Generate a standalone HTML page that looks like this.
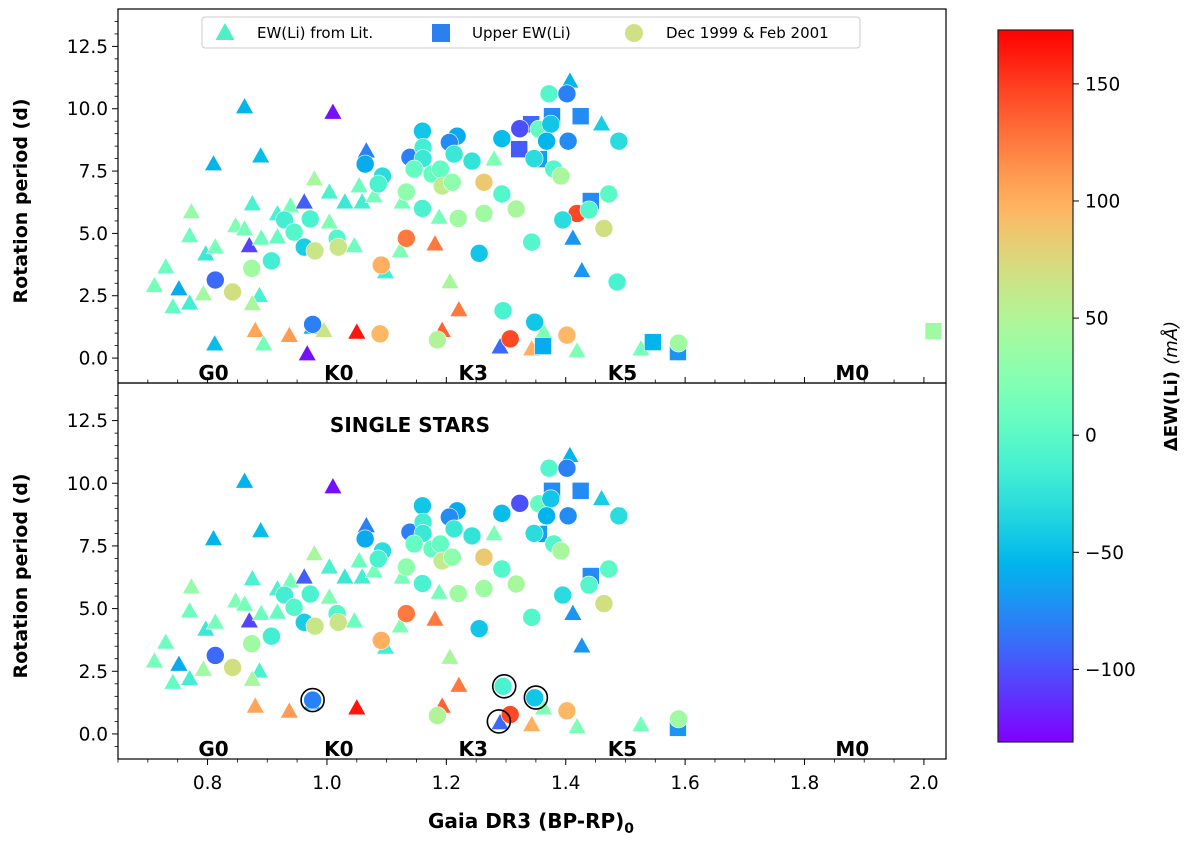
<!DOCTYPE html>
<html><head><meta charset="utf-8"><style>
body{margin:0;background:#fff}
svg{display:block;font-family:"DejaVu Sans","Liberation Sans",sans-serif}
</style></head><body>
<svg id="fig" width="1200" height="843" viewBox="0 0 1200 843" xmlns="http://www.w3.org/2000/svg">
<defs><linearGradient id="cbg" x1="0" y1="1" x2="0" y2="0"></linearGradient></defs>
<g id="topMarks"></g>
<g id="botMarks"></g>
<g id="axes"></g>
</svg>
<script>
// Triangles: EW(Li) from literature
const triX=[0.862,1.01,0.81,0.889,0.773,0.77,0.73,0.711,0.752,0.742,0.77,0.797,0.813,0.847,0.862,0.87,0.875,0.89,0.887,0.875,0.793,0.917,0.917,0.939,0.962,0.979,1.004,1.03,1.054,1.059,1.079,1.046,1.004,1.123,1.126,1.066,1.28,1.188,1.181,1.206,1.221,1.193,1.29,0.88,0.937,0.975,0.995,1.05,0.967,0.812,0.894,1.098,1.407,1.46,1.412,1.427,1.419,1.526,1.363,1.343];
const triY=[10.07,9.85,7.78,8.1,5.86,4.9,3.65,2.9,2.77,2.05,2.2,4.17,4.45,5.3,5.17,4.5,6.18,4.8,2.5,2.17,2.57,4.85,5.78,6.1,6.25,7.18,6.65,6.25,6.9,6.25,6.5,4.5,5.45,4.3,6.25,8.3,7.98,5.64,4.57,3.05,1.93,1.1,0.44,1.1,0.9,1.23,1.1,1.03,0.16,0.56,0.56,3.45,11.1,9.38,4.8,3.5,0.28,0.36,1.03,0.36];
const triC=[-55,-125,-55,-50,35,10,10,15,-60,5,-15,-20,15,20,15,-105,-10,10,-10,45,40,5,-10,15,-95,45,-10,-20,10,-15,15,10,20,20,15,-80,20,15,125,45,125,135,-90,105,110,-55,65,165,-125,-50,15,-15,-55,-40,-70,-70,20,15,20,100];
const triS=[1,1,1,1,1,1,1,1,1,1,1,1,1,1,1,1,1,1,1,1,1,1,1,1,1,1,1,1,1,1,1,1,1,1,1,1,1,1,1,1,1,1,1,1,1,1,0,1,0,0,0,1,1,1,1,1,1,1,1,1];
// Squares: upper EW(Li)
const sqX=[1.377,1.425,1.342,1.322,1.355,1.442,1.362,1.546,1.588,2.016];
const sqY=[9.7,9.7,9.38,8.38,7.98,6.3,0.48,0.64,0.24,1.08];
const sqC=[-75,-75,-90,-95,-65,-75,-60,-55,-70,40];
const sqS=[1,1,0,0,1,1,0,0,1,0];
// Circles: Dec 1999 & Feb 2001
const ciX=[0.813,0.842,0.874,0.907,0.929,0.945,0.972,0.962,0.98,1.017,1.019,1.064,1.093,1.086,1.091,1.133,1.133,1.16,1.139,1.161,1.161,1.146,1.176,1.19,1.193,1.21,1.16,1.218,1.205,1.213,1.243,1.293,1.323,1.263,1.293,1.263,1.22,1.317,1.255,1.295,1.185,1.089,1.307,1.372,1.402,1.355,1.375,1.368,1.404,1.489,1.347,1.38,1.392,1.472,1.419,1.439,1.395,1.464,1.343,1.486,1.348,1.402,1.589,0.976];
const ciY=[3.13,2.65,3.6,3.9,5.54,5.05,5.58,4.45,4.3,4.8,4.45,7.78,7.3,6.98,3.73,6.66,4.8,9.1,8.05,8.45,8.0,7.58,7.38,7.58,6.9,7.05,6.0,8.9,8.65,8.18,7.9,8.8,9.2,7.05,6.58,5.8,5.6,5.98,4.2,1.9,0.73,0.97,0.77,10.6,10.6,9.18,9.38,8.7,8.7,8.7,8.0,7.58,7.3,6.58,5.8,5.94,5.54,5.2,4.65,3.05,1.44,0.92,0.6,1.35];
const ciC=[-90,70,40,-15,-15,-5,-10,-40,65,-5,65,-60,-30,-10,100,30,125,-45,-80,-15,-20,5,5,5,60,30,-10,-60,-75,-20,-25,-50,-100,85,-5,40,40,45,-45,-10,50,95,145,-5,-80,5,-45,-55,-75,-30,-30,-5,45,0,145,-5,-30,70,-5,-10,-45,95,40,-80];
const ciS=[1,1,1,1,1,1,1,1,1,1,1,1,1,1,1,1,1,1,1,1,1,1,1,1,1,1,1,1,1,1,1,1,1,1,1,1,1,1,1,1,1,0,1,1,1,1,1,1,1,1,1,1,1,1,0,1,1,1,1,0,1,1,1,1];
// Highlighted single stars (black rings)
const ringX=[0.976,1.297,1.35,1.288];
const ringY=[1.35,1.9,1.45,0.5];
const xTicks=[0.8,1.0,1.2,1.4,1.6,1.8,2.0];
const yTicks=[0,2.5,5,7.5,10,12.5];
const cbTicks=[150,100,50,0,-50,-100];
const spTypes=["G0","K0","K3","K5","M0"];
const spPos=[0.81,1.02,1.245,1.495,1.88];

const NS="http://www.w3.org/2000/svg";
const XMIN=0.65,XMAX=2.037,YMIN=-1,YMAX=14,CMIN=-131,CMAX=173;
const L=118,R=946;
const panels=[{top:9,bot:383},{top:383,bot:759}];
function xs(v){return L+(v-XMIN)/(XMAX-XMIN)*(R-L);}
function ys(v,p){return p.bot-(v-YMIN)/(YMAX-YMIN)*(p.bot-p.top);}
function rainbow(v){let t=(v-CMIN)/(CMAX-CMIN);t=Math.max(0,Math.min(1,t));
 const r=Math.min(1,Math.abs(2*t-0.5)),g=Math.sin(Math.PI*t),b=Math.cos(Math.PI*t/2);
 return `rgb(${Math.round(r*255)},${Math.round(g*255)},${Math.round(b*255)})`;}
function mk(tag,attrs,parent){const e=document.createElementNS(NS,tag);for(const k in attrs)e.setAttribute(k,attrs[k]);parent.appendChild(e);return e;}
const svg=document.getElementById('fig');
const ax=document.getElementById('axes');
const groups=[document.getElementById('topMarks'),document.getElementById('botMarks')];

panels.forEach((p,pi)=>{
 const g=groups[pi];
 const single=pi===1;
 const cp=mk('clipPath',{id:'cp'+pi},svg);
 mk('rect',{x:L,y:p.top,width:R-L,height:p.bot-p.top},cp);
 g.setAttribute('clip-path','url(#cp'+pi+')');
 triX.forEach((x,i)=>{ if(single&&!triS[i])return;
  const cx=xs(x),cy=ys(triY[i],p),h=9.5;
  const e=mk('polygon',{points:`${cx},${cy-h} ${cx-h*0.95},${cy+h*0.7} ${cx+h*0.95},${cy+h*0.7}`,fill:rainbow(triC[i]),stroke:'#fff','stroke-width':0.6},g);
  
  });
 sqX.forEach((x,i)=>{ if(single&&!sqS[i])return;
  const cx=xs(x),cy=ys(sqY[i],p);
  const e=mk('rect',{x:cx-8.5,y:cy-8.5,width:17,height:17,fill:rainbow(sqC[i]),stroke:'#fff','stroke-width':0.6},g);
  
  });
 ciX.forEach((x,i)=>{ if(single&&!ciS[i])return;
  const e=mk('circle',{cx:xs(x),cy:ys(ciY[i],p),r:9,fill:rainbow(ciC[i]),stroke:'#fff','stroke-width':0.6},g);
  
  });
 if(single){ringX.forEach((x,i)=>{
  const e=mk('circle',{cx:xs(x),cy:ys(ringY[i],p),r:11.5,fill:'none',stroke:'#000','stroke-width':1.6},g);
  
  });}
 const fr=mk('rect',{x:L,y:p.top,width:R-L,height:p.bot-p.top,fill:'none',stroke:'#000','stroke-width':1.2},ax);
 
 
 yTicks.forEach(v=>{const y=ys(v,p);
  mk('line',{x1:L-6,x2:L,y1:y,y2:y,stroke:'#000','stroke-width':1},ax);
  const t=mk('text',{x:L-10,y:y+6.5,'text-anchor':'end','font-size':18.5},ax);t.textContent=v.toFixed(1);
  
  });
 for(let v=-0.5;v<=13.9;v+=0.5){if(Math.abs(v/2.5-Math.round(v/2.5))<1e-6)continue;const y=ys(v,p);mk('line',{x1:L-3.5,x2:L,y1:y,y2:y,stroke:'#000','stroke-width':0.8},ax);}
 const dir=pi===0?-1:1;
 for(let v=0.65;v<=2.04;v+=0.05){const x=xs(v);const maj=Math.abs(v*5-Math.round(v*5))<1e-6;
  mk('line',{x1:x,x2:x,y1:p.bot,y2:p.bot+dir*(maj?6:3.5),stroke:'#000','stroke-width':maj?1:0.8},ax);}
 spTypes.forEach((s,i)=>{const t=mk('text',{x:xs(spPos[i]),y:p.bot-(pi===0?3:3),'text-anchor':'middle','font-size':20,'font-weight':'bold'},ax);t.textContent=s;
  
  });
 const yl=mk('text',{x:0,y:0,transform:`translate(27,${(p.top+p.bot)/2+5}) rotate(-90)`,'text-anchor':'middle','font-size':19,'font-weight':'bold'},ax);
 yl.textContent='Rotation period (d)';
 
 
});
xTicks.forEach(v=>{const t=mk('text',{x:xs(v),y:789,'text-anchor':'middle','font-size':18.5},ax);t.textContent=v.toFixed(1);
 
 });
const grad=document.getElementById('cbg');
for(let i=0;i<=40;i++){const v=CMIN+(CMAX-CMIN)*i/40;mk('stop',{offset:(i/40),'stop-color':rainbow(v)},grad);}
const CB={x:998,w:75,top:30,bot:742};
const cb=mk('rect',{x:CB.x,y:CB.top,width:CB.w,height:CB.bot-CB.top,fill:'url(#cbg)',stroke:'#222','stroke-width':1.2},ax);


function cy(v){return CB.bot-(v-CMIN)/(CMAX-CMIN)*(CB.bot-CB.top);}
cbTicks.forEach(v=>{const y=cy(v);mk('line',{x1:CB.x+CB.w,x2:CB.x+CB.w+6,y1:y,y2:y,stroke:'#000','stroke-width':1},ax);
 const t=mk('text',{x:CB.x+CB.w+12,y:y+6.5,'font-size':18.5},ax);t.textContent=v<0?'\u2212'+(-v):String(v);
 
 });
</script>
<svg style="position:absolute;left:0;top:0" width="1200" height="843" xmlns="http://www.w3.org/2000/svg">
<g>
<rect x="202" y="17" width="658" height="31" rx="3" fill="#fff" fill-opacity="0.85" stroke="#ccc" stroke-width="1"/>
<polygon points="225,23 215.5,40 234.5,40" fill="#4df0c6"/>
<text x="257" y="38" font-size="15" font-family="DejaVu Sans,sans-serif">EW(Li) from Lit.</text>
<rect x="432" y="24" width="18" height="18" fill="#2a80ee"/>
<text x="472" y="38" font-size="15" font-family="DejaVu Sans,sans-serif">Upper EW(Li)</text>
<circle cx="634" cy="33" r="9" fill="#d0e185"/>
<text x="666" y="38" font-size="15" font-family="DejaVu Sans,sans-serif">Dec 1999 &amp; Feb 2001</text>
</g>
<text x="410" y="432" text-anchor="middle" font-size="20" font-weight="bold" font-family="DejaVu Sans,sans-serif">SINGLE STARS</text>
<text x="531" y="828" text-anchor="middle" font-size="20" font-weight="bold" font-family="DejaVu Sans,sans-serif">Gaia DR3 (BP-RP)<tspan font-size="14" dy="5">0</tspan></text>
<text transform="translate(1177,386) rotate(-90)" text-anchor="middle" font-size="18" font-weight="bold" font-family="DejaVu Sans,sans-serif">ΔEW(Li) <tspan font-style="italic" font-weight="normal">(mÅ)</tspan></text>
</svg>
</body></html>
